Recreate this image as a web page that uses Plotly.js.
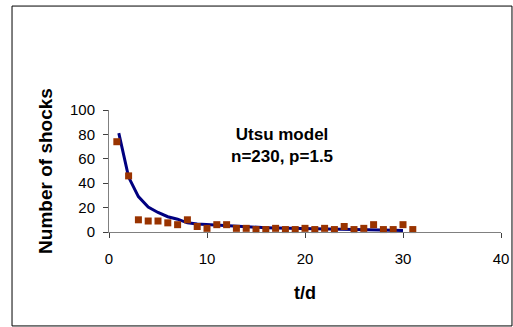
<!DOCTYPE html>
<html>
<head>
<meta charset="utf-8">
<script src="https://cdn.plot.ly/plotly-3.0.1.min.js"></script>
<style>html,body{margin:0;padding:0;background:#fff;}#chart{width:513px;height:327px;}</style>
</head>
<body>
<div id="chart"></div>
<script>
// Observed aftershock counts per day
var obsDays = [0.8, 2, 3, 4, 5, 6, 7, 8, 9, 10, 11, 12, 13, 14, 15, 16, 17, 18, 19, 20, 21, 22, 23, 24, 25, 26, 27, 28, 29, 30, 31];
var obsShocks = [74, 46, 10, 9, 9, 7.5, 6, 10, 4.5, 3, 6, 6, 3, 3, 2, 2, 3, 2, 2, 3, 2, 3, 2, 4.5, 2, 3, 6, 2, 2, 6, 2];
// Utsu model curve (n=230, p=1.5)
var modelDays = [1, 2, 3, 4, 5, 6, 7, 8, 9, 10, 11, 12, 13, 14, 15, 16, 17, 18, 19, 20, 21, 22, 23, 24, 25, 26, 27, 28, 29, 30];
var modelShocks = [81, 45, 29, 20.5, 16, 12.5, 10.5, 7.5, 6.5, 6, 5.5, 5, 4.5, 4, 4, 3.5, 3.2, 3, 2.8, 2.6, 2.4, 2.2, 2, 2, 1.8, 1.7, 1.6, 1.5, 1.4, 1.3];
var xTicks = [0, 10, 20, 30, 40];
var yTicks = [0, 20, 40, 60, 80, 100];

var traces = [
  {x: modelDays, y: modelShocks, type: 'scatter', mode: 'lines',
   line: {color: '#000080', width: 3}, hoverinfo: 'skip'},
  {x: obsDays, y: obsShocks, type: 'scatter', mode: 'markers',
   marker: {symbol: 'square', color: '#993300', size: 7}, cliponaxis: false}
];

var layout = {
  width: 513, height: 327,
  margin: {l: 109, r: 12, t: 110, b: 95, pad: 0},
  paper_bgcolor: '#fff', plot_bgcolor: '#fff',
  showlegend: false,
  font: {family: '"Liberation Sans", Arial, sans-serif', color: '#000', size: 15},
  xaxis: {
    range: [0, 40], tickvals: xTicks, ticktext: xTicks.map(String),
    showgrid: false, zeroline: false, showline: true, linecolor: '#808080', linewidth: 1,
    ticks: 'outside', ticklen: 5, tickcolor: '#404040', ticklabelstandoff: 8,
    tickfont: {size: 15},
    title: {text: 't/d', font: {size: 18, weight: 'bold'}, standoff: 20},
    automargin: false, fixedrange: true
  },
  yaxis: {
    range: [0, 100], tickvals: yTicks, ticktext: yTicks.map(String),
    showgrid: false, zeroline: false, showline: true, linecolor: '#808080', linewidth: 1,
    ticks: 'outside', ticklen: 5, tickcolor: '#404040', ticklabelstandoff: 5,
    tickfont: {size: 15},
    title: {text: 'Number of shocks', font: {size: 19, weight: 'bold'}, standoff: 12},
    automargin: false, fixedrange: true
  },
  annotations: [{
    xref: 'x', yref: 'y', x: 17.65, y: 71, xanchor: 'center', yanchor: 'middle',
    text: 'Utsu model<br>n=230, p=1.5', showarrow: false, align: 'center',
    font: {size: 17, weight: 'bold', color: '#000'}
  }],
  shapes: [{
    type: 'rect', xref: 'paper', yref: 'paper',
    x0: -0.2474, x1: 1.028, y0: -0.770, y1: 1.852,
    line: {color: '#000', width: 1}, fillcolor: 'rgba(0,0,0,0)', layer: 'below'
  }]
};

Plotly.newPlot('chart', traces, layout, {staticPlot: true, displayModeBar: false});
</script>
</body>
</html>
